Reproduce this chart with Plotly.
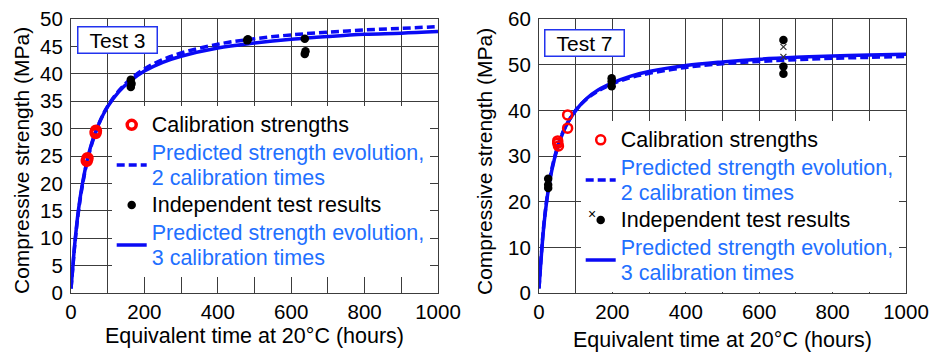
import plotly.graph_objects as go

# ---------------- Test 3 data ----------------
t3_calib_t = [43, 45, 67, 68]
t3_calib_s = [24.1, 24.6, 29.2, 29.6]
t3_test_t = [163, 163, 165, 480, 482, 637, 637, 639]
t3_test_s = [38.9, 37.6, 38.2, 46.1, 46.3, 46.4, 43.6, 44.1]
t3_curve_t = [0, 5, 10, 20, 30, 45, 60, 80, 100, 130, 160, 200, 250, 300, 400, 500, 600, 700, 800, 900, 1000]
t3_pred2_s = [0.8, 4.7, 8.6, 14.7, 19.2, 24.3, 27.9, 31.5, 34.1, 36.9, 38.9, 40.9, 42.6, 43.8, 45.4, 46.4, 47.1, 47.6, 48.0, 48.3, 48.6]
t3_pred3_s = [0.8, 4.8, 8.8, 15.0, 19.5, 24.5, 28.1, 31.5, 34.0, 36.7, 38.6, 40.5, 42.1, 43.2, 44.7, 45.6, 46.3, 46.8, 47.2, 47.4, 47.7]

# ---------------- Test 7 data ----------------
t7_calib_t = [51, 51, 53, 78, 78]
t7_calib_s = [33.3, 32.8, 32.2, 39.0, 36.1]
t7_test_t = [25, 25, 25, 198, 198, 198, 666, 666, 666]
t7_test_s = [25.0, 23.7, 23.0, 47.0, 46.3, 45.3, 55.4, 49.6, 48.0]
t7_cross_t = [666, 666]
t7_cross_s = [53.9, 51.7]
t7_curve_t = [0, 5, 10, 15, 25, 35, 50, 65, 80, 100, 130, 160, 200, 250, 300, 400, 500, 600, 700, 800, 900, 1000]
t7_pred2_s = [1.0, 6.9, 12.2, 16.4, 22.7, 27.2, 31.9, 35.2, 37.6, 40.0, 42.5, 44.2, 45.8, 47.2, 48.1, 49.4, 50.2, 50.7, 51.1, 51.4, 51.6, 51.8]
t7_pred3_s = [1.0, 6.7, 11.9, 16.1, 22.4, 26.9, 31.7, 35.1, 37.5, 40.0, 42.6, 44.4, 46.0, 47.5, 48.5, 49.8, 50.6, 51.2, 51.6, 51.9, 52.1, 52.3]

x_ticklabels = {"100": "", "300": "", "500": "", "700": "", "900": ""}
y3_ticks = [0, 5, 10, 15, 20, 25, 30, 35, 40, 45, 50]
y7_ticks = [0, 10, 20, 30, 40, 50, 60]

BLUE = "#0a0af5"
TXTBLUE = "#1f70ff"
FONT = "Liberation Sans, Arial, sans-serif"
W, H = 935, 352
LFS = 21.5  # legend text size


def lg_line(text, color="black"):
    return f"<span style='font-size:{LFS}px;color:{color}'>{text}</span>"


name_cal = lg_line("Calibration strengths")
name_p2 = lg_line("Predicted strength evolution,", TXTBLUE) + "<br>" + lg_line("2 calibration times", TXTBLUE)
name_ind = lg_line("Independent test results")
name_p3 = lg_line("Predicted strength evolution,", TXTBLUE) + "<br>" + lg_line("3 calibration times", TXTBLUE)

fig = go.Figure()


def add_panel(xa, ya, lg, ct, p2, p3, calt, cals, tt, ts, cal_size, cal_lw):
    fig.add_trace(go.Scatter(x=ct, y=p3, mode="lines", line=dict(color=BLUE, width=3.5, shape="spline"),
                             name=name_p3, legend=lg, legendrank=4, xaxis=xa, yaxis=ya))
    fig.add_trace(go.Scatter(x=ct, y=p2, mode="lines", line=dict(color=BLUE, width=3.5, dash="8px,4px", shape="spline"),
                             name=name_p2, legend=lg, legendrank=2, xaxis=xa, yaxis=ya))
    fig.add_trace(go.Scatter(x=tt, y=ts, mode="markers", marker=dict(color="black", size=8.5, symbol="circle"),
                             name=name_ind, legend=lg, legendrank=3, xaxis=xa, yaxis=ya))
    fig.add_trace(go.Scatter(x=calt, y=cals, mode="markers",
                             marker=dict(color="red", size=cal_size, symbol="circle-open", line=dict(color="red", width=cal_lw)),
                             name=name_cal, legend=lg, legendrank=1, xaxis=xa, yaxis=ya))


add_panel("x", "y", "legend", t3_curve_t, t3_pred2_s, t3_pred3_s, t3_calib_t, t3_calib_s, t3_test_t, t3_test_s, 9, 3.5)
add_panel("x2", "y2", "legend2", t7_curve_t, t7_pred2_s, t7_pred3_s, t7_calib_t, t7_calib_s, t7_test_t, t7_test_s, 9, 2.5)
fig.add_trace(go.Scatter(x=t7_cross_t, y=t7_cross_s, mode="markers", showlegend=False,
                         marker=dict(color="#333", size=6, symbol="x-thin", line=dict(color="#333", width=1.2)),
                         xaxis="x2", yaxis="y2"))


def px_x(p):
    return p / W


def px_y(p):
    return 1 - p / H


ydom = [px_y(293), px_y(19)]
axis_common = dict(showgrid=True, gridcolor="#3c3c3c", gridwidth=1, showline=True, linecolor="#3c3c3c",
                   linewidth=1.2, mirror=True, zeroline=False, ticks="",
                   automargin=False, tickfont=dict(family=FONT, size=20.5, color="black"))

fig.update_layout(
    template="none",
    width=W, height=H, margin=dict(l=0, r=0, t=0, b=0, pad=0), autosize=False,
    paper_bgcolor="white", plot_bgcolor="white", font=dict(family=FONT, size=20, color="black"),
    xaxis=dict(domain=[px_x(71), px_x(438)], range=[0, 1000], anchor="y", tickmode="linear", tick0=0,
               dtick=100, labelalias=x_ticklabels, ticklabelstandoff=0, **axis_common),
    yaxis=dict(domain=ydom, range=[0, 50], anchor="x", tickmode="array", tickvals=y3_ticks,
               ticklabelstandoff=3, **axis_common),
    xaxis2=dict(domain=[px_x(539), px_x(906)], range=[0, 1000], anchor="y2", tickmode="linear", tick0=0,
                dtick=100, labelalias=x_ticklabels, ticklabelstandoff=0, **axis_common),
    yaxis2=dict(domain=ydom, range=[0, 60], anchor="x2", tickmode="array", tickvals=y7_ticks,
                ticklabelstandoff=3, **axis_common),
    legend=dict(x=px_x(111.7), y=px_y(106), xanchor="left", yanchor="top", bgcolor="white", borderwidth=0,
                font=dict(family=FONT, size=19, color="black"), traceorder="normal"),
    legend2=dict(x=px_x(580.7), y=px_y(121), xanchor="left", yanchor="top", bgcolor="white", borderwidth=0,
                 font=dict(family=FONT, size=19, color="black"), traceorder="normal"),
)

annotations = [
    dict(text="Test 3", x=px_x(117.5), y=px_y(40), xref="paper", yref="paper", showarrow=False,
         xanchor="center", yanchor="middle",
         font=dict(family=FONT, size=21, color="black"), bgcolor="white", bordercolor="#2233ee",
         borderwidth=1.5, borderpad=1, width=76),
    dict(text="Test 7", x=px_x(584.5), y=px_y(43), xref="paper", yref="paper", showarrow=False,
         xanchor="center", yanchor="middle",
         font=dict(family=FONT, size=21, color="black"), bgcolor="white", bordercolor="#2233ee",
         borderwidth=1.5, borderpad=1, width=76),
    dict(text="Equivalent time at 20°C (hours)", x=px_x(254.5), y=px_y(336), xref="paper", yref="paper",
         xanchor="center", yanchor="middle",
         showarrow=False, font=dict(family=FONT, size=21.5, color="black")),
    dict(text="Equivalent time at 20°C (hours)", x=px_x(722.5), y=px_y(339.5), xref="paper", yref="paper",
         xanchor="center", yanchor="middle",
         showarrow=False, font=dict(family=FONT, size=21.5, color="black")),
    dict(text="Compressive strength (MPa)", x=px_x(21), y=px_y(161), xref="paper", yref="paper",
         xanchor="center", yanchor="middle",
         showarrow=False, textangle=-90, font=dict(family=FONT, size=21, color="black")),
    dict(text="Compressive strength (MPa)", x=px_x(484), y=px_y(162), xref="paper", yref="paper",
         xanchor="center", yanchor="middle",
         showarrow=False, textangle=-90, font=dict(family=FONT, size=21, color="black")),
    dict(text="×", x=px_x(592), y=px_y(214), xref="paper", yref="paper", showarrow=False,
         xanchor="center", yanchor="middle",
         font=dict(family=FONT, size=14, color="black")),
]
fig.update_layout(annotations=annotations)

fig.write_html("out.html")
